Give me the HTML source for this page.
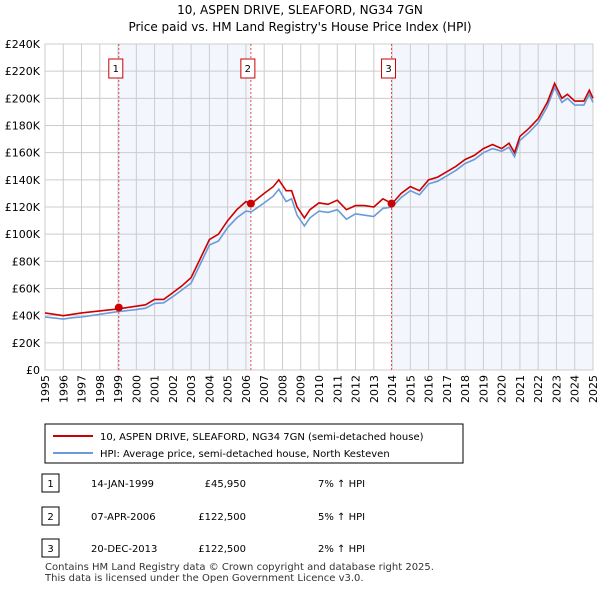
<!DOCTYPE html>
<html><head><meta charset="utf-8"><style>
body{margin:0;background:#fff;font-family:"Liberation Sans","DejaVu Sans",sans-serif;}
svg text{font-family:"DejaVu Sans","Liberation Sans",sans-serif;}
</style></head><body>
<svg width="600" height="590">
<text x="300" y="14" text-anchor="middle" font-size="12">10, ASPEN DRIVE, SLEAFORD, NG34 7GN</text>
<text x="300" y="31" text-anchor="middle" font-size="12">Price paid vs. HM Land Registry's House Price Index (HPI)</text>
<g id="plot"></g>
<g>
<rect x="45" y="424" width="418" height="39" fill="#fff" stroke="#000"/>
<line x1="53" y1="436" x2="93" y2="436" stroke="#cc0000" stroke-width="2"/>
<text x="100" y="440" font-size="10">10, ASPEN DRIVE, SLEAFORD, NG34 7GN (semi-detached house)</text>
<line x1="53" y1="453" x2="93" y2="453" stroke="#6a9bd8" stroke-width="2"/>
<text x="100" y="457" font-size="10">HPI: Average price, semi-detached house, North Kesteven</text>
</g>
<g font-size="10">
<rect x="42" y="474" width="17" height="18" fill="#fff" stroke="#000"/><text x="50.5" y="487" text-anchor="middle">1</text>
<text x="91" y="487">14-JAN-1999</text><text x="246" y="487" text-anchor="end">£45,950</text><text x="318" y="487">7% ↑ HPI</text>
<rect x="42" y="507" width="17" height="18" fill="#fff" stroke="#000"/><text x="50.5" y="520" text-anchor="middle">2</text>
<text x="91" y="520">07-APR-2006</text><text x="246" y="520" text-anchor="end">£122,500</text><text x="318" y="520">5% ↑ HPI</text>
<rect x="42" y="539" width="17" height="18" fill="#fff" stroke="#000"/><text x="50.5" y="552" text-anchor="middle">3</text>
<text x="91" y="552">20-DEC-2013</text><text x="246" y="552" text-anchor="end">£122,500</text><text x="318" y="552">2% ↑ HPI</text>
</g>
<text x="45" y="570" font-size="10" fill="#333">Contains HM Land Registry data © Crown copyright and database right 2025.</text>
<text x="45" y="581" font-size="10" fill="#333">This data is licensed under the Open Government Licence v3.0.</text>
</svg>
<script>
const yearsT=[1995,1996,1996.5,1997,1998,1999,2000,2000.5,2001,2001.5,2002,2002.5,2003,2003.5,2004,2004.5,2005,2005.5,2006,2006.3,2007,2007.5,2007.8,2008.2,2008.5,2008.8,2009.2,2009.5,2010,2010.5,2011,2011.5,2012,2012.5,2013,2013.5,2014,2014.5,2015,2015.5,2016,2016.5,2017,2017.5,2018,2018.5,2019,2019.5,2020,2020.4,2020.7,2021,2021.5,2022,2022.5,2022.9,2023.3,2023.6,2024,2024.5,2024.8,2025];
const priceSeries=[42,40,41,42,43.5,45,47,48,52,52,57,62,68,82,96,100,110,118,124,122.5,130,135,140,132,132,120,112,118,123,122,125,118,121,121,120,126,122.5,130,135,132,140,142,146,150,155,158,163,166,163,167,160,172,178,185,197,211,200,203,198,198,206,200];
const hpiSeries=[39,37.5,38.5,39,41,43,44.5,45.5,49,49.5,54,59,64,78,92,95,105,112,117,116.5,123,128,133,124,126,114,106,112,117,116,118,111,115,114,113,119,120,127,132,129,137,139,143,147,152,155,160,163,161,164,157,169,175,182,194,208,197,200,195,195,203,197];
const saleYears=[1999.04,2006.27,2013.97];
const saleValues=[45.95,122.5,122.5];
const yTicks=[0,20,40,60,80,100,120,140,160,180,200,220,240];
const xYears=[];for(let y=1995;y<=2025;y++)xYears.push(y);
const X0=45,X1=593,Y0=370,Y1=44;
const xs=y=>X0+(y-1995)*(X1-X0)/30;
const ys=v=>Y0-v*(Y0-Y1)/240;
const NS="http://www.w3.org/2000/svg";
const g=document.getElementById('plot');
function mk(t,a){const e=document.createElementNS(NS,t);for(const k in a)e.setAttribute(k,a[k]);g.appendChild(e);return e;}
let e;
e=mk('rect',{x:xs(saleYears[0]),y:Y1,width:xs(saleYears[1])-xs(saleYears[0]),height:Y0-Y1,fill:'#f3f6fd'});

e=mk('rect',{x:xs(saleYears[2]),y:Y1,width:X1-xs(saleYears[2]),height:Y0-Y1,fill:'#f3f6fd'});

yTicks.forEach(v=>{e=mk('line',{x1:X0,x2:X1,y1:ys(v),y2:ys(v),stroke:'#ccc'});

e=mk('text',{x:X0-5,y:ys(v)+4,'text-anchor':'end','font-size':11});e.textContent=v==0?'£0':'£'+v+'K';
});
xYears.forEach(y=>{e=mk('line',{x1:xs(y),x2:xs(y),y1:Y1,y2:Y0,stroke:'#ccc'});

e=mk('text',{x:xs(y)+4,y:Y0+5,'text-anchor':'end','font-size':11,transform:`rotate(-90 ${xs(y)+4} ${Y0+5})`});e.textContent=y;
});
e=mk('rect',{x:X0,y:Y1,width:X1-X0,height:Y0-Y1,fill:'none',stroke:'#ccc'});

saleYears.forEach((s,i)=>{e=mk('line',{x1:xs(s),x2:xs(s),y1:Y1,y2:Y0,stroke:'#e05050','stroke-dasharray':'2,2'});

e=mk('rect',{x:xs(s)-10,y:59,width:14,height:19,fill:'#fff',stroke:'#cc0000'});

e=mk('text',{x:xs(s)-3,y:72,'text-anchor':'middle','font-size':10});e.textContent=i+1;
});
const pts=a=>yearsT.map((y,i)=>xs(y).toFixed(1)+','+ys(a[i]).toFixed(1)).join(' ');
e=mk('polyline',{points:pts(hpiSeries),fill:'none',stroke:'#6a9bd8','stroke-width':1.6});

e=mk('polyline',{points:pts(priceSeries),fill:'none',stroke:'#cc0000','stroke-width':1.6});

saleYears.forEach((s,i)=>{e=mk('circle',{cx:xs(s),cy:ys(saleValues[i]),r:4,fill:'#cc0000'});
});
</script>
</body></html>
